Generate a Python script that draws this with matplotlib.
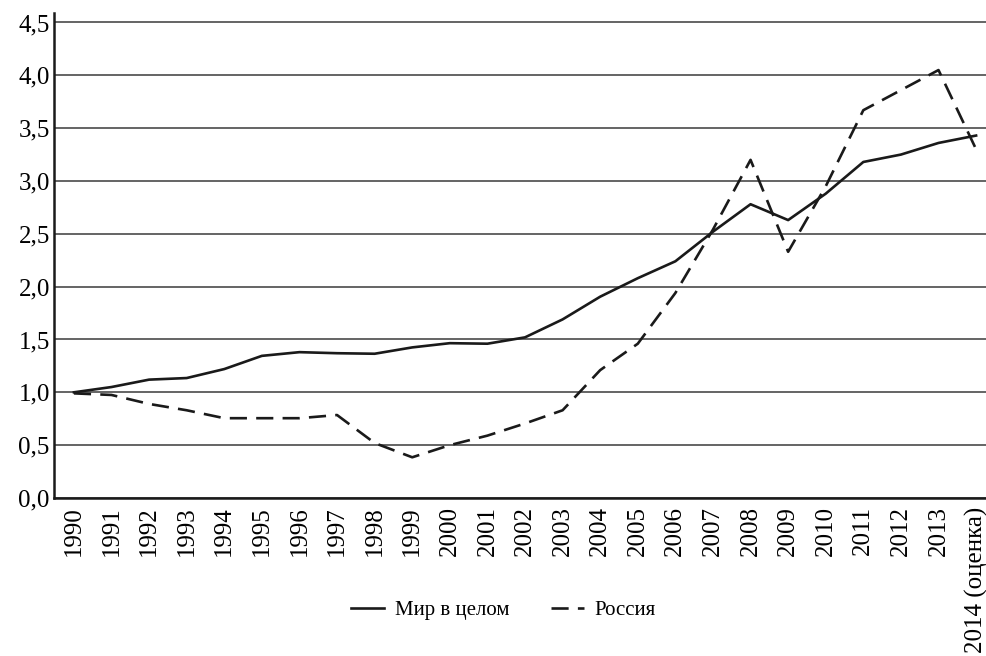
import matplotlib
matplotlib.use('Agg')
import matplotlib.pyplot as plt
from matplotlib.ticker import FuncFormatter

# Years and index values (1990 = 1,0)
years = ['1990', '1991', '1992', '1993', '1994', '1995', '1996', '1997', '1998', '1999',
         '2000', '2001', '2002', '2003', '2004', '2005', '2006', '2007', '2008', '2009',
         '2010', '2011', '2012', '2013', '2014 (оценка)']
world = [1.00, 1.05, 1.12, 1.135, 1.22, 1.345, 1.38, 1.37, 1.365, 1.425,
         1.465, 1.46, 1.52, 1.69, 1.905, 2.08, 2.24, 2.52, 2.78, 2.63,
         2.88, 3.18, 3.25, 3.36, 3.43]
russia = [0.99, 0.975, 0.89, 0.83, 0.755, 0.755, 0.755, 0.785, 0.52, 0.385,
          0.50, 0.59, 0.705, 0.83, 1.21, 1.46, 1.94, 2.54, 3.20, 2.33,
          2.95, 3.67, 3.86, 4.05, 3.30]
y_ticks = [0.0, 0.5, 1.0, 1.5, 2.0, 2.5, 3.0, 3.5, 4.0, 4.5]

plt.rcParams['font.family'] = ['Liberation Serif', 'DejaVu Serif']

fig = plt.figure(figsize=(9.87, 6.56), dpi=100)
ax = fig.add_axes([0.0547, 0.2409, 0.9453, 0.7393])

x = list(range(len(years)))
ax.plot(x, world, color='#1a1a1a', lw=1.9, label='Мир в целом')
ax.plot(x, russia, color='#1a1a1a', lw=1.9, dashes=(6.5, 3.5), label='Россия')

ax.set_xlim(-0.53, len(years) - 1 + 0.29)
ax.set_ylim(0, 4.59)
ax.set_yticks(y_ticks)
ax.yaxis.set_major_formatter(FuncFormatter(lambda v, p: f'{v:.1f}'.replace('.', ',')))
ax.set_xticks(x)
ax.set_xticklabels(years, rotation=90, fontsize=18)
ax.tick_params(axis='y', labelsize=18, length=0, pad=3)
ax.tick_params(axis='x', length=0, pad=6)

ax.grid(axis='y', color='#3a3a3a', lw=1.1)
ax.set_axisbelow(True)
for s in ['top', 'right']:
    ax.spines[s].set_visible(False)
for s in ['left', 'bottom']:
    ax.spines[s].set_linewidth(1.8)
    ax.spines[s].set_color('#1a1a1a')

fig.legend(loc='center', bbox_to_anchor=(0.51, 0.07), ncol=2, frameon=False,
           fontsize=15, handlelength=1.6, columnspacing=2.0, handletextpad=0.5)

fig.savefig('out.png', dpi=100)
